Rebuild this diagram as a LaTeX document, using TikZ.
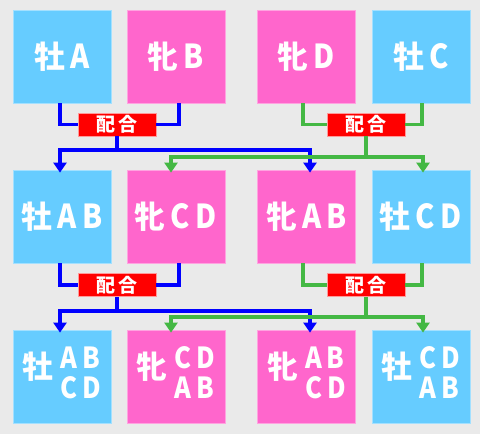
\documentclass[tikz,border=0pt]{standalone}
\usepackage{fontspec}
\newfontfamily\cjk{Noto Sans CJK JP}
\newfontfamily\latfam{Noto Sans CJK JP}[FakeStretch=0.88]
\usetikzlibrary{arrows.meta}
\definecolor{bg}{HTML}{EAEAEA}
\definecolor{boxblue}{HTML}{66CCFF}
\definecolor{boxpink}{HTML}{FF66CC}
\definecolor{lineblue}{HTML}{0000FF}
\definecolor{linegreen}{HTML}{44B844}
\definecolor{pairred}{HTML}{FF0000}
\newcommand{\kanji}[1]{{\cjk\bfseries\fontsize{31}{31}\selectfont #1}}
\newcommand{\letters}[1]{{\latfam\bfseries\fontsize{33}{33}\selectfont #1}}
\newcommand{\twolines}[2]{\raisebox{-4pt}{\latfam\bfseries\fontsize{29}{27}\selectfont\begin{tabular}{@{}l@{}}#1\\#2\end{tabular}}}
\tikzset{
  cell/.style={minimum width=98pt, minimum height=93pt, inner sep=0pt, text=white, line width=0.8pt},
  malebox/.style={cell, fill=boxblue, draw=boxblue!60!white},
  femalebox/.style={cell, fill=boxpink, draw=boxpink!60!white},
  pairbox/.style={minimum width=78pt, minimum height=23pt, inner sep=0pt, fill=pairred, draw=pairred!40!white, line width=0.6pt, text=white, font=\cjk\bfseries\fontsize{19}{19}\selectfont},
  link/.style={line width=3.5pt},
  bluelink/.style={link, draw=lineblue},
  greenlink/.style={link, draw=linegreen},
  arr/.style={-{Triangle[width=13pt,length=10pt]}, shorten >=-3pt}
}
\begin{document}
\begin{tikzpicture}[x=1pt,y=-1pt]
\fill[bg] (0,0) rectangle (480,434);
\useasboundingbox (0,0) rectangle (480,434);
% row 1
\node[malebox]   (a1) at (62,56.5)    {\kanji{牡}\hspace{5pt}\letters{A}};
\node[femalebox] (b1) at (176,56.5)   {\kanji{牝}\hspace{5pt}\letters{B}};
\node[femalebox] (c1) at (306.5,56.5) {\kanji{牝}\hspace{5pt}\letters{D}};
\node[malebox]   (d1) at (421,56.5)   {\kanji{牡}\hspace{5pt}\letters{C}};
% row 2
\node[malebox]   (a2) at (62,216.5)    {\kanji{牡}\hspace{5pt}\letters{A\,B}};
\node[femalebox] (b2) at (176,216.5)   {\kanji{牝}\hspace{5pt}\letters{C\,D}};
\node[femalebox] (c2) at (306.5,216.5) {\kanji{牝}\hspace{5pt}\letters{A\,B}};
\node[malebox]   (d2) at (421,216.5)   {\kanji{牡}\hspace{5pt}\letters{C\,D}};
% row 3
\node[malebox]   (a3) at (62,376.5)    {\kanji{牡}\hspace{7pt}\twolines{A\,B}{C\,D}};
\node[femalebox] (b3) at (176,376.5)   {\kanji{牝}\hspace{7pt}\twolines{C\,D}{A\,B}};
\node[femalebox] (c3) at (306.5,376.5) {\kanji{牝}\hspace{7pt}\twolines{A\,B}{C\,D}};
\node[malebox]   (d3) at (421,376.5)   {\kanji{牡}\hspace{7pt}\twolines{C\,D}{A\,B}};
% pairing boxes
\node[pairbox] (m1) at (117,124.5) {配\,合};
\node[pairbox] (m2) at (366,124.5) {配\,合};
\node[pairbox] (m3) at (117,285)   {配\,合};
\node[pairbox] (m4) at (366,285)   {配\,合};
\coordinate (hb1) at (0,150);
\coordinate (hg1) at (0,157);
\coordinate (hb2) at (0,311);
\coordinate (hg2) at (0,317);
% row 1 -> pairing -> row 2
\draw[bluelink] ([xshift=-2pt]a1.south) |- (m1.west);
\draw[bluelink] ([xshift=3pt]b1.south) |- (m1.east);
\draw[bluelink,arr] (m1.south) -- (m1.south |- hb1) -| ([xshift=-2pt]a2.north);
\draw[bluelink,arr] (m1.south |- hb1) -| ([xshift=3.5pt]c2.north);
\draw[greenlink] ([xshift=-3.5pt]c1.south) |- (m2.west);
\draw[greenlink] ([xshift=1pt]d1.south) |- (m2.east);
\draw[greenlink,arr] (m2.south) -- (m2.south |- hg1) -| ([xshift=-5pt]b2.north);
\draw[greenlink,arr] (m2.south |- hg1) -| ([xshift=2pt]d2.north);
% row 2 -> pairing -> row 3
\draw[bluelink] ([xshift=-2pt]a2.south) |- (m3.west);
\draw[bluelink] ([xshift=3pt]b2.south) |- (m3.east);
\draw[bluelink,arr] (m3.south) -- (m3.south |- hb2) -| ([xshift=-2pt]a3.north);
\draw[bluelink,arr] (m3.south |- hb2) -| ([xshift=3.5pt]c3.north);
\draw[greenlink] ([xshift=-3.5pt]c2.south) |- (m4.west);
\draw[greenlink] ([xshift=1pt]d2.south) |- (m4.east);
\draw[greenlink,arr] (m4.south) -- (m4.south |- hg2) -| ([xshift=-5pt]b3.north);
\draw[greenlink,arr] (m4.south |- hg2) -| ([xshift=2pt]d3.north);
\end{tikzpicture}
\end{document}
